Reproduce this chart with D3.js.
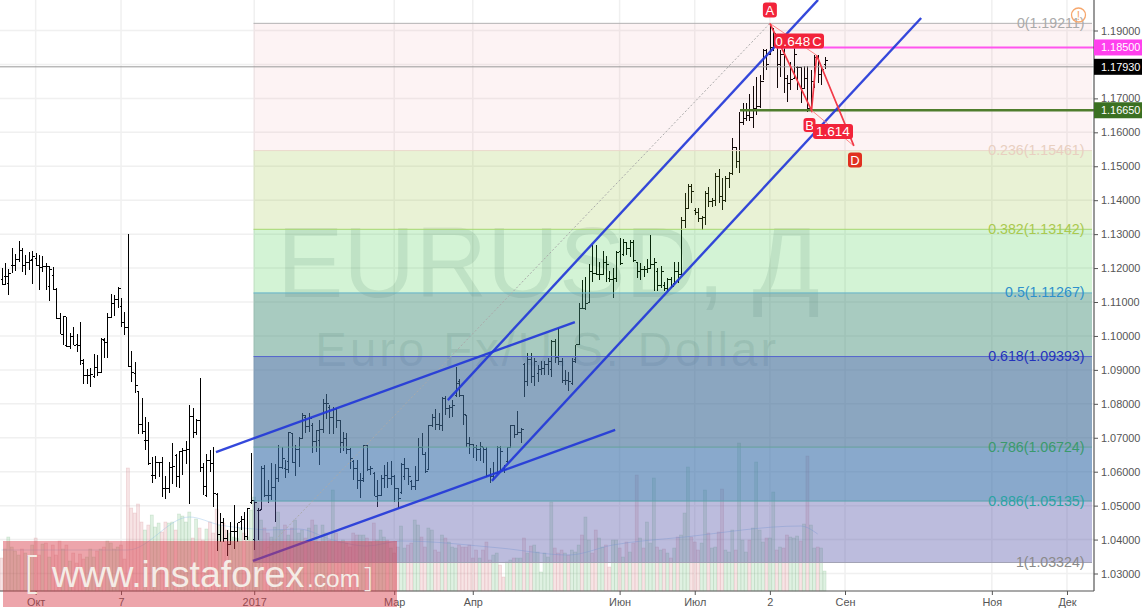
<!DOCTYPE html>
<html><head><meta charset="utf-8">
<script src="https://cdnjs.cloudflare.com/ajax/libs/d3/7.8.5/d3.min.js"></script>
<style>html,body{margin:0;padding:0;background:#fff;overflow:hidden}svg{display:block;font-family:"Liberation Sans",Arial,sans-serif}</style>
</head><body><svg id="c" width="1142" height="610"></svg>
<script>
const opens=[1.1165,1.1175,1.1155,1.1209,1.1209,1.1224,1.1253,1.1209,1.1217,1.1224,
1.1229,1.1207,1.1202,1.1206,1.1145,1.1179,1.1137,1.1052,1.1005,1.0971,
1.0968,1.0998,1.0976,1.0973,1.0919,1.0883,1.0883,1.0880,1.0907,1.0892,
1.0988,1.0981,1.1055,1.1096,1.1106,1.1086,1.1039,1.1025,1.0909,1.0890,
1.0836,1.0738,1.0691,1.0691,1.0590,1.0590,1.0628,1.0628,1.0551,1.0549,
1.0613,1.0649,1.0587,1.0659,1.0661,1.0666,1.0764,1.0715,1.0752,1.0613,
1.0531,1.0632,1.0625,1.0534,1.0414,1.0450,1.0404,1.0386,1.0423,1.0423,
1.0453,1.0458,1.0409,1.0510,1.0400,1.0485,1.0490,1.0610,1.0531,1.0530,
1.0554,1.0580,1.0612,1.0610,1.0630,1.0712,1.0627,1.0664,1.0698,1.0760,
1.0733,1.0735,1.0688,1.0693,1.0723,1.0801,1.0790,1.0760,1.0782,1.0750,
1.0685,1.0698,1.0664,1.0630,1.0610,1.0575,1.0580,1.0676,1.0607,1.0595,
1.0528,1.0530,1.0580,1.0590,1.0580,1.0585,1.0550,1.0540,1.0585,1.0610,
1.0570,1.0555,1.0575,1.0670,1.0650,1.0605,1.0735,1.0760,1.0740,1.0735,
1.0815,1.0785,1.0790,1.0825,1.0865,1.0825,1.0767,1.0682,1.0680,1.0670,
1.0665,1.0670,1.0665,1.0590,1.0585,1.0595,1.0670,1.0610,1.0630,1.0670,
1.0735,1.0710,1.0715,1.0917,1.0865,1.0930,1.0880,1.0890,1.0900,1.0905,
1.0915,1.0900,1.0985,1.0935,1.0925,1.0870,1.0870,1.0860,1.0930,1.0974,
1.1082,1.1080,1.1100,1.1190,1.1185,1.1180,1.1180,1.1215,1.1170,1.1165,
1.1170,1.1250,1.1240,1.1275,1.1258,1.1275,1.1215,1.1190,1.1197,1.1195,
1.1200,1.1210,1.1190,1.1150,1.1150,1.1140,1.1165,1.1155,1.1190,1.1180,
1.1340,1.1375,1.1440,1.1370,1.1365,1.1345,1.1350,1.1420,1.1395,1.1400,
1.1470,1.1410,1.1400,1.1465,1.1478,1.1555,1.1515,1.1630,1.1640,1.1650,
1.1645,1.1670,1.1675,1.1750,1.1840,1.1830,1.1850,1.1860,1.1800,1.1830,
1.1760,1.1745,1.1760,1.1790,1.1790,1.1730,1.1760,1.1670,1.1740,1.1820,1.1770,1.1800];
const highs=[1.1199,1.1214,1.1196,1.1258,1.1241,1.1280,1.1258,1.1238,1.1248,1.1251,
1.1243,1.1238,1.1235,1.1214,1.1206,1.1202,1.1142,1.1067,1.1059,1.1057,
1.1008,1.1025,1.1006,1.1041,1.0931,1.0904,1.0906,1.0947,1.0944,1.0993,
1.0993,1.1068,1.1123,1.1120,1.1143,1.1111,1.1071,1.1300,1.0956,1.0923,
1.0839,1.0816,1.0760,1.0745,1.0644,1.0646,1.0630,1.0644,1.0587,1.0628,
1.0686,1.0651,1.0662,1.0669,1.0690,1.0796,1.0787,1.0754,1.0875,1.0625,
1.0651,1.0664,1.0672,1.0536,1.0477,1.0463,1.0428,1.0453,1.0502,1.0450,
1.0468,1.0480,1.0492,1.0654,1.0516,1.0492,1.0617,1.0620,1.0575,1.0626,
1.0624,1.0679,1.0674,1.0634,1.0718,1.0715,1.0679,1.0703,1.0772,1.0767,
1.0772,1.0742,1.0723,1.0752,1.0814,1.0828,1.0796,1.0791,1.0789,1.0750,
1.0718,1.0713,1.0669,1.0634,1.0634,1.0595,1.0679,1.0679,1.0617,1.0600,
1.0575,1.0590,1.0620,1.0629,1.0631,1.0590,1.0551,1.0625,1.0639,1.0610,
1.0576,1.0617,1.0698,1.0715,1.0659,1.0738,1.0770,1.0784,1.0772,1.0821,
1.0823,1.0796,1.0811,1.0909,1.0872,1.0826,1.0767,1.0701,1.0679,1.0679,
1.0688,1.0672,1.0672,1.0610,1.0630,1.0676,1.0676,1.0620,1.0672,1.0738,
1.0738,1.0779,1.0728,1.0921,1.0951,1.0951,1.0934,1.0914,1.0927,1.0927,
1.0934,1.0988,1.0992,1.1022,1.0934,1.0899,1.0894,1.0934,1.0974,1.1098,
1.1165,1.1173,1.1211,1.1268,1.1268,1.1219,1.1251,1.1236,1.1190,1.1200,
1.1249,1.1288,1.1285,1.1278,1.1283,1.1283,1.1216,1.1214,1.1205,1.1226,
1.1298,1.1229,1.1200,1.1205,1.1160,1.1170,1.1175,1.1219,1.1219,1.1350,
1.1420,1.1448,1.1448,1.1376,1.1376,1.1354,1.1427,1.1440,1.1406,1.1479,
1.1492,1.1465,1.1472,1.1484,1.1582,1.1558,1.1661,1.1686,1.1686,1.1712,
1.1735,1.1764,1.1769,1.1845,1.1845,1.1916,1.1906,1.1872,1.1843,1.1848,
1.1769,1.1808,1.1857,1.1794,1.1789,1.1794,1.1794,1.1784,1.1828,1.1828,1.1794,1.1823];
const lows=[1.1150,1.1150,1.1120,1.1184,1.1192,1.1219,1.1189,1.1179,1.1194,1.1153,
1.1206,1.1135,1.1189,1.1135,1.1104,1.1135,1.1049,1.1005,1.0973,1.0966,
1.0961,1.0973,1.0954,1.0914,1.0858,1.0858,1.0850,1.0875,1.0882,1.0892,
1.0934,1.0934,1.1052,1.1059,1.1081,1.1027,1.1003,1.0908,1.0865,1.0831,
1.0710,1.0710,1.0664,1.0620,1.0568,1.0578,1.0583,1.0526,1.0519,1.0536,
1.0564,1.0556,1.0553,1.0590,1.0623,1.0504,1.0698,1.0708,1.0598,1.0531,
1.0526,1.0600,1.0497,1.0367,1.0394,1.0394,1.0352,1.0386,1.0371,1.0394,
1.0428,1.0399,1.0399,1.0505,1.0369,1.0399,1.0487,1.0526,1.0507,1.0516,
1.0453,1.0570,1.0607,1.0580,1.0595,1.0626,1.0588,1.0615,1.0698,1.0713,
1.0718,1.0656,1.0659,1.0620,1.0715,1.0754,1.0710,1.0710,1.0728,1.0654,
1.0662,1.0652,1.0607,1.0575,1.0548,1.0521,1.0570,1.0603,1.0590,1.0528,
1.0495,1.0528,1.0551,1.0553,1.0561,1.0512,1.0492,1.0535,1.0576,1.0561,
1.0545,1.0545,1.0576,1.0649,1.0595,1.0605,1.0733,1.0723,1.0723,1.0721,
1.0767,1.0759,1.0760,1.0821,1.0821,1.0738,1.0674,1.0652,1.0639,1.0632,
1.0632,1.0625,1.0585,1.0568,1.0576,1.0595,1.0600,1.0595,1.0625,1.0670,
1.0698,1.0708,1.0684,1.0821,1.0852,1.0860,1.0852,1.0865,1.0885,1.0885,
1.0885,1.0880,1.0919,1.0914,1.0860,1.0855,1.0838,1.0855,1.0920,1.0974,
1.1079,1.1077,1.1101,1.1160,1.1180,1.1165,1.1180,1.1160,1.1160,1.1111,
1.1160,1.1210,1.1236,1.1239,1.1234,1.1219,1.1170,1.1165,1.1175,1.1185,
1.1197,1.1131,1.1131,1.1141,1.1131,1.1131,1.1141,1.1150,1.1155,1.1180,
1.1317,1.1374,1.1391,1.1357,1.1337,1.1312,1.1327,1.1379,1.1381,1.1383,
1.1391,1.1371,1.1396,1.1435,1.1474,1.1494,1.1479,1.1622,1.1632,1.1632,
1.1612,1.1651,1.1671,1.1754,1.1784,1.1828,1.1840,1.1730,1.1764,1.1715,
1.1688,1.1725,1.1759,1.1725,1.1686,1.1730,1.1661,1.1666,1.1730,1.1745,1.1740,1.1786];
const closes=[1.1152,1.1175,1.1184,1.1209,1.1224,1.1253,1.1209,1.1217,1.1222,1.1233,
1.1207,1.1202,1.1206,1.1204,1.1196,1.1137,1.1052,1.1005,1.1057,1.0968,
1.0998,1.0973,1.0973,1.0929,1.0883,1.0883,1.0885,1.0907,1.0892,1.0990,
1.0981,1.1055,1.1096,1.1106,1.1140,1.1039,1.1025,1.0909,1.0892,1.0855,
1.0738,1.0718,1.0691,1.0625,1.0590,1.0628,1.0628,1.0551,1.0549,1.0613,
1.0615,1.0587,1.0659,1.0661,1.0666,1.0764,1.0715,1.0752,1.0613,1.0556,
1.0632,1.0625,1.0536,1.0414,1.0450,1.0404,1.0386,1.0423,1.0423,1.0450,
1.0458,1.0409,1.0492,1.0516,1.0510,1.0485,1.0610,1.0531,1.0530,1.0554,
1.0580,1.0612,1.0640,1.0605,1.0716,1.0627,1.0664,1.0698,1.0767,1.0733,
1.0757,1.0688,1.0720,1.0723,1.0801,1.0801,1.0760,1.0782,1.0750,1.0685,
1.0698,1.0664,1.0640,1.0610,1.0575,1.0575,1.0676,1.0607,1.0610,1.0528,
1.0530,1.0580,1.0590,1.0580,1.0585,1.0550,1.0520,1.0620,1.0610,1.0585,
1.0555,1.0575,1.0670,1.0650,1.0600,1.0735,1.0760,1.0740,1.0735,1.0815,
1.0785,1.0790,1.0795,1.0860,1.0825,1.0768,1.0682,1.0680,1.0670,1.0665,
1.0675,1.0665,1.0590,1.0585,1.0595,1.0670,1.0660,1.0605,1.0670,1.0735,
1.0710,1.0715,1.0725,1.0865,1.0930,1.0880,1.0925,1.0900,1.0905,1.0915,
1.0925,1.0985,1.0935,1.0925,1.0870,1.0870,1.0865,1.0925,1.0974,1.1082,
1.1080,1.1095,1.1190,1.1185,1.1180,1.1180,1.1215,1.1210,1.1165,1.1170,
1.1245,1.1212,1.1275,1.1258,1.1275,1.1222,1.1190,1.1197,1.1195,1.1200,
1.1210,1.1215,1.1150,1.1190,1.1140,1.1165,1.1145,1.1190,1.1180,1.1340,
1.1375,1.1440,1.1425,1.1365,1.1345,1.1350,1.1420,1.1395,1.1400,1.1470,
1.1410,1.1400,1.1465,1.1478,1.1555,1.1515,1.1630,1.1640,1.1650,1.1645,
1.1670,1.1675,1.1750,1.1840,1.1800,1.1850,1.1890,1.1800,1.1830,1.1760,
1.1745,1.1755,1.1830,1.1790,1.1730,1.1760,1.1670,1.1750,1.1820,1.1770,1.1785,1.1812];
const volumes=[33,42,54,44,40,36,42,38,35,46,53,36,47,48,34,46,36,50,42,46,
30,38,28,37,32,34,42,34,40,42,44,50,48,42,44,46,32,123,83,78,
87,69,61,66,76,64,68,59,69,68,69,61,77,75,69,79,53,72,63,51,
62,69,58,82,66,68,61,58,54,53,63,58,54,81,94,88,71,63,58,54,
64,79,61,66,56,63,71,58,61,53,63,71,66,49,66,58,51,101,58,49,
51,48,44,58,56,56,56,53,49,68,51,61,54,51,43,38,44,65,43,46,
48,71,66,54,44,63,61,41,39,56,53,49,44,43,46,44,44,46,33,41,
33,41,49,31,36,38,26,14,29,31,33,33,33,53,38,45,46,39,19,38,
34,89,43,38,41,38,36,41,39,46,56,74,51,38,61,53,44,46,24,51,
51,43,34,49,39,48,116,53,43,69,48,113,44,41,42,38,33,43,54,56,
78,124,54,49,41,48,101,58,43,44,59,102,41,39,61,41,148,51,39,51,
63,129,61,49,53,53,99,41,44,43,56,54,53,55,50,67,135,66,43,44,43,20];
const maIndex=[0,37,55,64,74,78,87,97,107,117,146,166,179,200,234,239];
const maValues=[41,41,74,66,62,61,62,51,45,50,43,36,46,54,65,57];
const tickIndex=[10,35,74,115,138,181,203,225,247,290,312];
const tickLabels=["Окт","7","2017","Мар","Апр","Июн","Июл","2","Сен","Ноя","Дек"];
const priceTicks=[1.03,1.04,1.05,1.06,1.07,1.08,1.09,1.10,1.11,1.12,1.13,1.14,1.15,1.16,1.17,1.18,1.19];
const fibRatios=["0","0.236","0.382","0.5","0.618","0.786","0.886","1"];
const fibPrices=[1.19211,1.15461,1.13142,1.11267,1.09393,1.06724,1.05135,1.03324];
const fibLine=["#b3b1b3","#ead9cc","#a5d86e","#62b3c9","#5566cc","#62a09a","#5aa3ad","#a3a3b5"];
const fibText=["#aaaaaa","#e8cfc0","#a9c94f","#2e90cc","#2433bb","#3a9a6c","#2aa3a3","#8a8a8a"];
const fibFill=["rgb(228,100,120)","rgb(145,190,45)","rgb(35,195,45)","rgb(62,140,115)","rgb(62,107,150)","rgb(58,112,170)","rgb(88,88,170)"];
const fibAlpha=[0.08,0.2,0.2,0.45,0.6,0.6,0.4];
const channelLines=[[62.8,1.0658,167.9,1.1041],[73.6,1.0337,179.7,1.0723],[130.7,1.0811,239.1,1.1990],[143.6,1.0573,269.3,1.1937]];
const fibDiagonal=[73.8,1.0332,225,1.1921];
const patternNames=["A","B","C","D"];
const patternIndex=[225,237.2,238.7,249.6];
const patternPrices=[1.1921,1.1665,1.1827,1.1560];
const levelPrices=[1.185,1.1665];
const currentPrice=1.1793;

const W=1142,H=610,axisX=1094,axisY=591;
const svg=d3.select("#c");
const x=d3.scaleLinear().domain([0,100]).range([1.5,343]);
const y=d3.scaleLinear().domain([1.03,1.19]).range([573.5,30.5]);
const v=d3.scaleLinear().domain([0,200]).range([axisY,axisY-200]);

// grid
const grid=svg.append("g").attr("stroke","#f0f0f0").attr("stroke-width",1.5);
grid.selectAll(".h").data(priceTicks).join("line").attr("x1",0).attr("x2",axisX).attr("y1",d=>y(d)).attr("y2",d=>y(d));
grid.selectAll(".v").data(tickIndex).join("line").attr("y1",0).attr("y2",axisY).attr("x1",d=>x(d)).attr("x2",d=>x(d));

// watermark
svg.append("text").attr("x",277).attr("y",297).attr("font-size",99.5).attr("fill","#3c505a").attr("fill-opacity",0.12).text("EURUSD, Д");
svg.append("text").attr("x",315).attr("y",366).attr("font-size",48).attr("letter-spacing",2.65).attr("fill","#3c505a").attr("fill-opacity",0.12).text("Euro Fx/U.S. Dollar");

// volume
const idx=d3.range(opens.length);
svg.append("g").selectAll("rect").data(idx).join("rect")
 .attr("x",i=>x(i)-1.5).attr("width",3).attr("y",i=>v(volumes[i])).attr("height",i=>axisY-v(volumes[i]))
 .attr("fill",i=>closes[i]>=opens[i]?"rgba(110,190,125,0.22)":"rgba(215,120,125,0.2)")
 .attr("stroke",i=>closes[i]>=opens[i]?"rgba(110,170,120,0.28)":"rgba(200,120,125,0.28)").attr("stroke-width",0.6);
svg.append("path").datum(d3.range(maIndex.length))
 .attr("d",d3.line().x(k=>x(maIndex[k])).y(k=>v(maValues[k])).curve(d3.curveMonotoneX))
 .attr("fill","none").attr("stroke","#8fbfe8").attr("stroke-opacity",0.4).attr("stroke-width",1);

// OHLC bars
const bars=svg.append("g").attr("stroke","#000").attr("stroke-width",1).attr("shape-rendering","crispEdges");
idx.forEach(i=>{
 const g=bars.append("g"),c=Math.round(x(i))+0.5;
 g.append("line").attr("x1",c).attr("x2",c).attr("y1",y(highs[i])).attr("y2",y(lows[i]));
 g.append("line").attr("x1",c-2).attr("x2",c).attr("y1",y(opens[i])).attr("y2",y(opens[i]));
 g.append("line").attr("x1",c).attr("x2",c+2).attr("y1",y(closes[i])).attr("y2",y(closes[i]));
});

// fib zones
const fibLeft=x(73.8),fibRight=1092;
const zones=svg.append("g");
fibFill.forEach((f,k)=>zones.append("rect").attr("x",fibLeft).attr("width",fibRight-fibLeft)
 .attr("y",y(fibPrices[k])).attr("height",y(fibPrices[k+1])-y(fibPrices[k])).attr("fill",f).attr("fill-opacity",fibAlpha[k]));
fibPrices.forEach((p,k)=>{
 zones.append("line").attr("x1",fibLeft).attr("x2",fibRight).attr("y1",y(p)).attr("y2",y(p)).attr("stroke",fibLine[k]).attr("stroke-width",1);
 zones.append("text").attr("x",1084.5).attr("y",y(p)+4.5).attr("text-anchor","end").attr("font-size",14.2).attr("fill",fibText[k])
  .text(fibRatios[k]+"("+p.toFixed(5)+")");
});
svg.append("line").attr("x1",x(fibDiagonal[0])).attr("y1",y(fibDiagonal[1])).attr("x2",x(fibDiagonal[2])).attr("y2",y(fibDiagonal[3]))
 .attr("stroke","#aaa").attr("stroke-width",1).attr("stroke-dasharray","2 2");

// current price line
svg.append("line").attr("x1",0).attr("x2",axisX).attr("y1",y(currentPrice)).attr("y2",y(currentPrice)).attr("stroke","#9a9a9a").attr("stroke-width",1);
// levels
svg.append("line").attr("x1",x(patternIndex[0])+6).attr("x2",axisX).attr("y1",y(levelPrices[0])).attr("y2",y(levelPrices[0])).attr("stroke","#ff55ee").attr("stroke-width",2);
svg.append("line").attr("x1",740).attr("x2",axisX).attr("y1",y(levelPrices[1])).attr("y2",y(levelPrices[1])).attr("stroke","#4f7d2d").attr("stroke-width",2.5);

// channels
svg.append("g").selectAll("line").data(channelLines).join("line")
 .attr("x1",d=>x(d[0])).attr("y1",d=>y(d[1])).attr("x2",d=>x(d[2])).attr("y2",d=>y(d[3]))
 .attr("stroke","#2338d8").attr("stroke-opacity",0.92).attr("stroke-width",2.4);

// harmonic pattern
const px=k=>x(patternIndex[k]),py=k=>y(patternPrices[k]);
const pat=svg.append("g").attr("fill","none");
[[0,2],[1,3]].forEach(([a,b])=>pat.append("line").attr("x1",px(a)).attr("y1",py(a)).attr("x2",px(b)).attr("y2",py(b)).attr("stroke","#f88").attr("stroke-width",1));
pat.append("path").datum([0,1,2,3]).attr("d",d3.line().x(px).y(py)).attr("stroke","#f23a48").attr("stroke-width",1.7);
function box(cx,cy,w,h,fill,txt,fs){
 svg.append("rect").attr("x",cx-w/2).attr("y",cy-h/2).attr("width",w).attr("height",h).attr("rx",3).attr("fill",fill);
 if(txt)svg.append("text").attr("x",cx).attr("y",cy+fs*0.36).attr("text-anchor","middle").attr("font-size",fs).attr("fill","#fff").text(txt);
}
box(px(0),10,14,15,"#f2233a","A",13);
box(799,41,50,15,"#f2233a","",12);
svg.append("text").attr("x",793).attr("y",45.5).attr("text-anchor","middle").attr("font-size",13.5).attr("letter-spacing",0.3).attr("fill","#fff").text("0.648");
svg.append("text").attr("x",817).attr("y",45.5).attr("text-anchor","middle").attr("font-size",13).attr("fill","#fff").text("C");
box(809.5,125,12,14,"#f2233a","B",13);
box(833,131.5,40,15,"#f2233a","1.614",13.5);
box(855,160,14,15,"#e0301f","D",13);

// axes
const ra=svg.append("g").attr("transform",`translate(${axisX},0)`)
 .call(d3.axisRight(y).tickValues(priceTicks).tickFormat(d3.format(".5f")).tickSize(4).tickPadding(3));
ra.select(".domain").attr("d",`M0,0V${axisY}`).attr("stroke","#555").attr("stroke-width",1.2);
ra.selectAll(".tick line").attr("stroke","#555");
ra.selectAll("text").attr("font-size",10.9).attr("font-family","Liberation Sans").attr("fill","#555");
const ba=svg.append("g").attr("transform",`translate(0,${axisY})`)
 .call(d3.axisBottom(x).tickValues(tickIndex).tickFormat((d,i)=>tickLabels[i]).tickSize(4).tickPadding(3));
ba.select(".domain").attr("d",`M0,0H${axisX}`).attr("stroke","#555").attr("stroke-width",1.2);
ba.selectAll(".tick line").attr("stroke","#555");
ba.selectAll("text").attr("font-size",10.9).attr("font-family","Liberation Sans").attr("fill","#555");

// price labels
[[levelPrices[0],"#ff40ee","#fff"],[currentPrice,"#000","#fff"],[levelPrices[1],"#3a7022","#fff"]].forEach(([p,bg,fg])=>{
 svg.append("rect").attr("x",axisX).attr("y",y(p)-8).attr("width",48).attr("height",16).attr("fill",bg);
 svg.append("text").attr("x",1101).attr("y",y(p)+4).attr("font-size",10.9).attr("fill",fg).text(p.toFixed(5));
});
// the tick labels behind the filled price boxes are hidden by the boxes

// alert icon
svg.append("circle").attr("cx",1078.5).attr("cy",15).attr("r",7).attr("fill","none").attr("stroke","#f6a76d").attr("stroke-width",1.3);
svg.append("text").attr("x",1078.5).attr("y",19.5).attr("text-anchor","middle").attr("font-size",12).attr("fill","#f6a76d").text("!");

// instaforex banner
svg.append("rect").attr("x",3).attr("y",541).attr("width",394).attr("height",66).attr("fill","#d83a48").attr("fill-opacity",0.46);
const br=svg.append("g").attr("fill","#f4ece6");
br.append("text").attr("x",24).attr("y",587).attr("font-size",44).attr("font-family","Open Sans").attr("font-weight",300).text("[");
br.append("text").attr("x",52).attr("y",587).attr("font-size",37.5).text("www.instaforex");
br.append("text").attr("x",307).attr("y",587).attr("font-size",24.5).text(".com");
br.append("text").attr("x",364).attr("y",587).attr("font-size",28).attr("font-family","Open Sans").attr("font-weight",300).text("]");
</script></body></html>
